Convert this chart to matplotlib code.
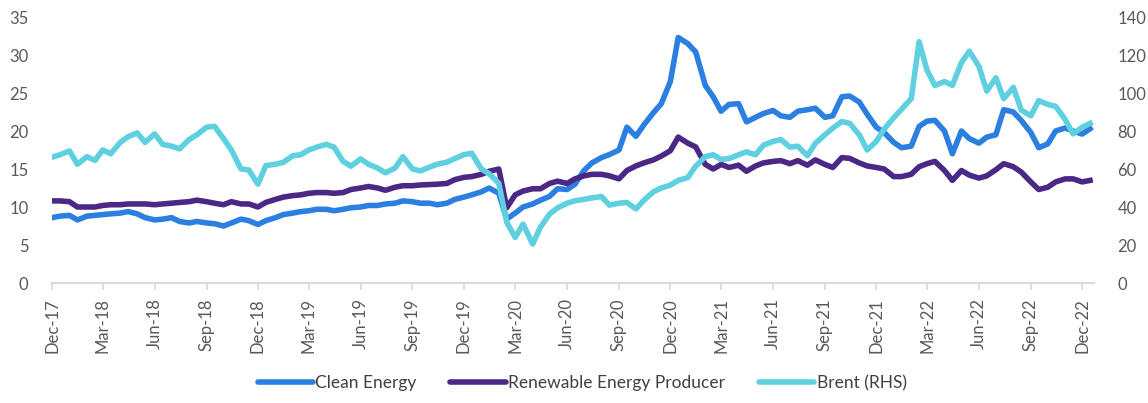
import matplotlib
matplotlib.use("Agg")
import matplotlib.pyplot as plt
import matplotlib.dates as mdates
import pandas as pd

plt.rcParams['font.family'] = ['Lato', 'DejaVu Sans']

# semi-monthly observations (1st and 15th), Dec-17 .. Dec-22
dates = pd.date_range('2017-12-01', periods=122, freq='SMS')

clean_energy = [
    8.6, 8.8, 8.9, 8.3, 8.8, 8.9, 9.0, 9.1, 9.2, 9.4,
    9.1, 8.6, 8.3, 8.4, 8.6, 8.1, 7.9, 8.1, 7.9, 7.8,
    7.5, 7.9, 8.4, 8.2, 7.7, 8.2, 8.6, 9.0, 9.2, 9.4,
    9.5, 9.7, 9.7, 9.5, 9.7, 9.9, 10.0, 10.2, 10.2, 10.4,
    10.5, 10.8, 10.7, 10.5, 10.5, 10.3, 10.5, 11.0, 11.3, 11.6,
    12.0, 12.5, 11.8, 8.4, 9.2, 10.0, 10.4, 10.9, 11.4, 12.4,
    12.3, 13.0, 14.8, 15.8, 16.5, 16.9, 17.5, 20.5, 19.3, 20.8,
    22.4, 23.6, 26.5, 32.3, 31.5, 30.4, 26.0, 24.5, 22.6, 23.5,
    23.6, 21.2, 21.8, 22.3, 22.7, 22.0, 21.8, 22.6, 22.8, 23.0,
    21.8, 22.0, 24.5, 24.6, 23.8, 22.2, 20.5, 19.8, 18.5, 17.8,
    18.0, 20.6, 21.3, 21.4, 20.0, 17.0, 20.0, 19.0, 18.4, 19.2,
    19.5, 22.8, 22.5, 21.4, 19.8, 17.8, 18.3, 20.0, 20.4, 20.0,
    19.6, 20.3,
]

renewable_producer = [
    10.8, 10.8, 10.7, 10.0, 10.0, 10.0, 10.2, 10.3, 10.3, 10.4,
    10.4, 10.4, 10.3, 10.4, 10.5, 10.6, 10.7, 10.9, 10.7, 10.5,
    10.3, 10.7, 10.4, 10.4, 10.0, 10.6, 11.0, 11.3, 11.5, 11.6,
    11.8, 11.9, 11.9, 11.8, 11.9, 12.3, 12.5, 12.7, 12.5, 12.2,
    12.6, 12.8, 12.8, 12.9, 12.95, 13.0, 13.1, 13.6, 13.9, 14.0,
    14.3, 14.7, 15.0, 9.9, 11.6, 12.1, 12.4, 12.4, 13.1, 13.4,
    13.1, 13.7, 14.1, 14.3, 14.3, 14.1, 13.7, 14.8, 15.4, 15.8,
    16.2, 16.7, 17.4, 19.2, 18.4, 17.9, 15.6, 15.0, 15.6, 15.2,
    15.5, 14.7, 15.4, 15.8, 16.0, 16.1, 15.7, 16.1, 15.5, 16.2,
    15.6, 15.2, 16.5, 16.4, 15.8, 15.4, 15.2, 15.0, 14.0, 14.0,
    14.3, 15.3, 15.7, 16.0, 14.8, 13.5, 14.8, 14.2, 13.8, 14.1,
    14.9, 15.7, 15.3, 14.6, 13.3, 12.3, 12.6, 13.3, 13.7, 13.7,
    13.3, 13.5,
]

brent = [
    66.2, 67.5, 69.5, 62.5, 66.5, 64.5, 70.0, 68.0, 74.0, 77.0,
    79.0, 74.0, 78.5, 73.0, 72.0, 70.6, 75.5, 78.0, 82.0, 82.5,
    76.0, 70.0, 60.0, 59.5, 52.0, 61.8, 62.5, 63.5, 67.0, 67.5,
    70.0, 71.5, 73.0, 71.5, 64.0, 61.5, 65.3, 62.5, 60.5, 58.0,
    60.5, 66.5, 60.0, 59.0, 61.0, 62.5, 63.6, 65.5, 67.5, 68.3,
    60.0, 57.5, 52.5, 32.0, 24.0, 31.0, 20.5, 29.5, 36.3, 39.5,
    42.0, 43.3, 44.0, 44.8, 45.5, 41.0, 42.0, 42.4, 39.0, 43.5,
    48.0, 50.0, 51.5, 54.0, 55.5, 61.5, 66.5, 67.5, 65.0, 65.5,
    67.5, 69.0, 67.5, 72.5, 74.5, 75.5, 71.5, 72.0, 67.0, 73.5,
    78.0, 81.5, 85.0, 84.0, 78.0, 70.0, 74.5, 81.0, 87.0, 91.5,
    97.0, 127.0, 112.0, 104.0, 106.0, 104.0, 116.0, 122.0, 114.0, 101.0,
    108.0, 97.0, 103.0, 91.0, 88.0, 96.0, 94.0, 93.0, 86.0, 78.5,
    82.0, 84.0,
]

BLUE = '#2b7fe0'
PURPLE = '#4b2886'
CYAN = '#5ed0df'
TICK_GREY = '#595959'

fig = plt.figure(figsize=(11.48, 4.03), dpi=100)
ax = fig.add_axes([52 / 1148, 1 - 283 / 403, 1042 / 1148, 266 / 403])
ax2 = ax.twinx()

l1, = ax.plot(dates, clean_energy, color=BLUE, lw=4, label='Clean Energy')
l2, = ax.plot(dates, renewable_producer, color=PURPLE, lw=4, label='Renewable Energy Producer')
l3, = ax2.plot(dates, brent, color=CYAN, lw=4, label='Brent (RHS)')

ax.set_ylim(0, 35)
ax.set_yticks(range(0, 36, 5))
ax2.set_ylim(0, 140)
ax2.set_yticks(range(0, 141, 20))
ax.set_xlim(pd.Timestamp('2017-12-01'), pd.Timestamp('2022-12-22'))

ax.xaxis.set_major_locator(mdates.MonthLocator(bymonth=[3, 6, 9, 12]))
ax.xaxis.set_major_formatter(mdates.DateFormatter('%b-%y'))

for a in (ax, ax2):
    for s in ('top', 'left', 'right'):
        a.spines[s].set_visible(False)
    a.spines['bottom'].set_color('#d9d9d9')
    a.spines['bottom'].set_linewidth(1.5)

ax.tick_params(axis='x', rotation=90, length=5, width=1.2, color='#d9d9d9',
               labelsize=12, labelcolor=TICK_GREY, pad=6)
ax.tick_params(axis='y', length=0, labelsize=12, labelcolor=TICK_GREY, pad=17)
ax2.tick_params(axis='y', length=0, labelsize=12, labelcolor=TICK_GREY, pad=17)

leg = fig.legend(handles=[l1, l2, l3], loc='center', ncol=3, frameon=False,
                 bbox_to_anchor=(582 / 1148, 1 - 383 / 403), fontsize=12.5,
                 handlelength=3.2, handletextpad=0.12, columnspacing=1.95)
for h in leg.get_lines():
    h.set_linewidth(4)
    h.set_solid_capstyle('round')
for t in leg.get_texts():
    t.set_color('#404040')

fig.savefig('out.png', dpi=100)
